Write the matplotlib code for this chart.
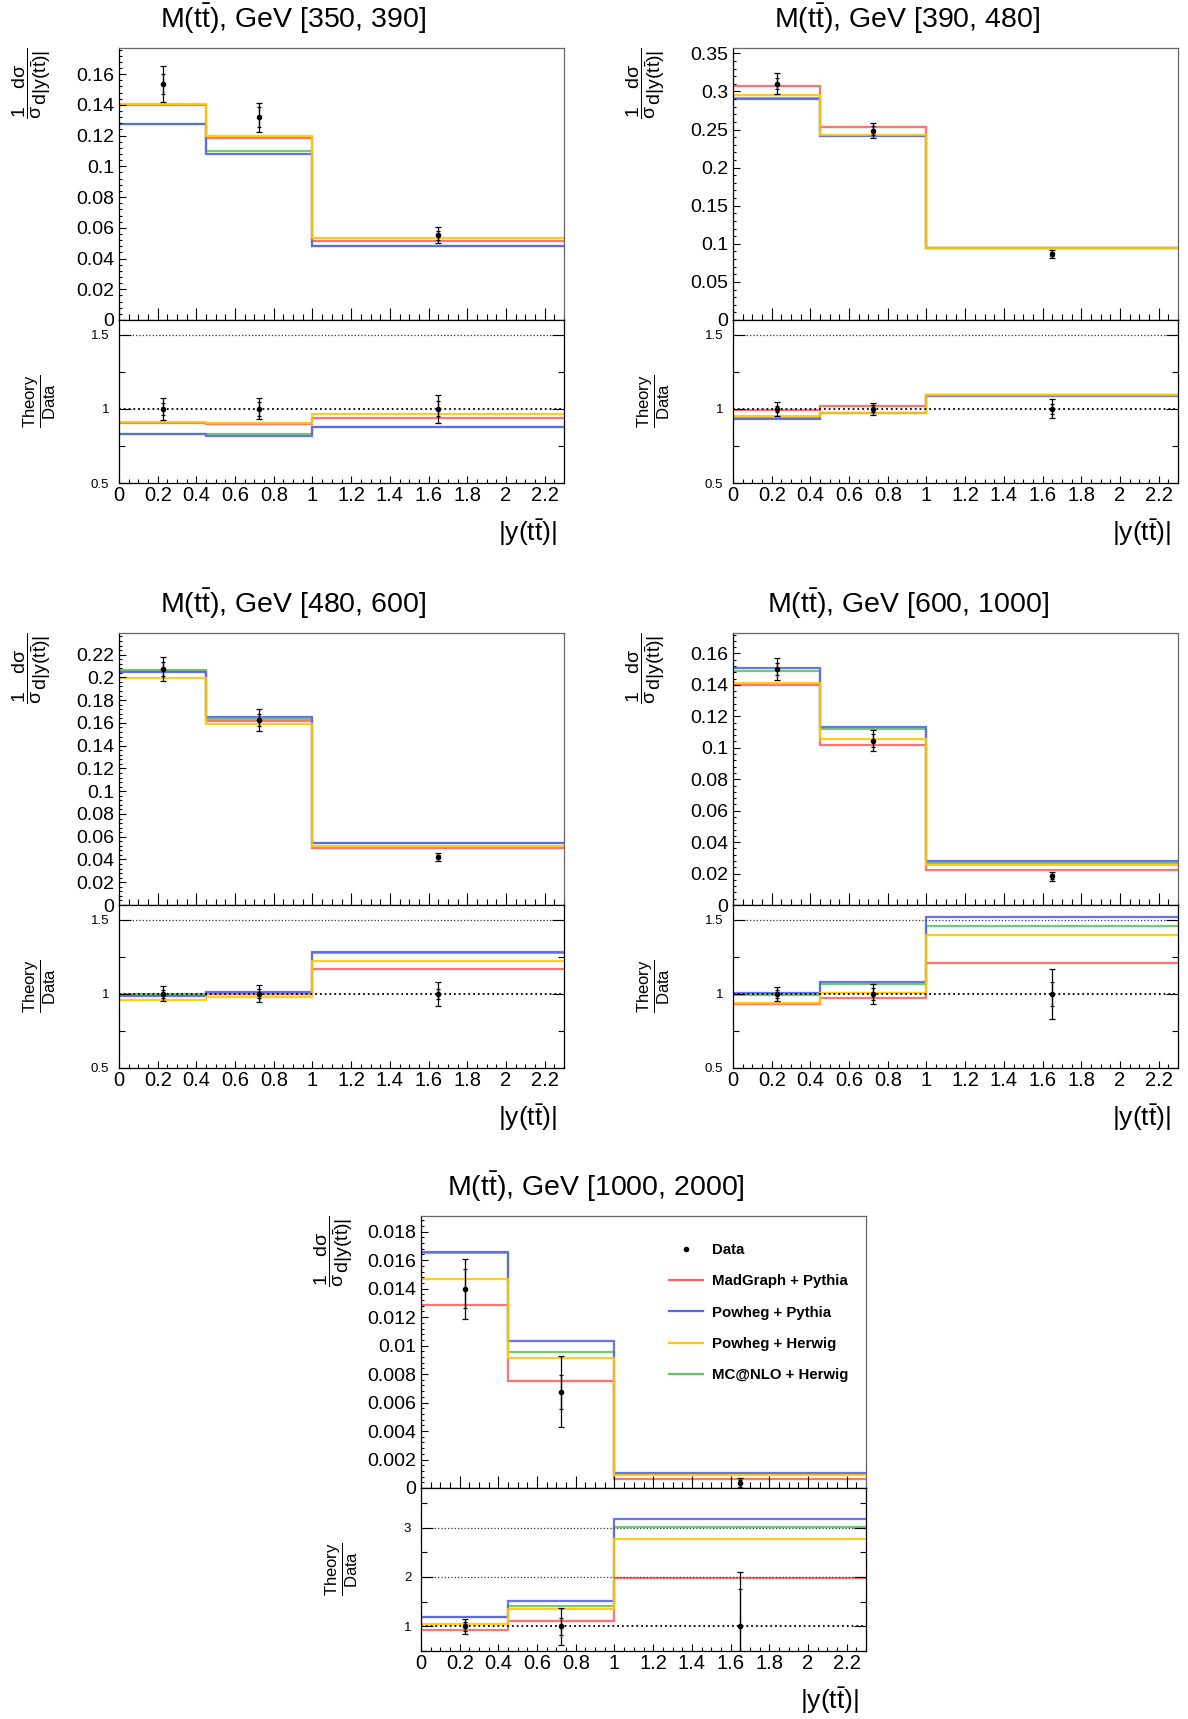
import numpy as np
import matplotlib
matplotlib.use('Agg')
import matplotlib.pyplot as plt
from matplotlib.ticker import MultipleLocator, FuncFormatter
from matplotlib.lines import Line2D

plt.rcParams['font.family'] = ['Liberation Sans', 'DejaVu Sans']
plt.rcParams['mathtext.fontset'] = 'custom'
plt.rcParams['mathtext.rm'] = 'Liberation Sans'
plt.rcParams['mathtext.it'] = 'Liberation Sans'
plt.rcParams['mathtext.bf'] = 'Liberation Sans:bold'

W, H = 1188, 1719

# |y(tt)| binning
bin_edges = [0.0, 0.45, 1.0, 2.3]
bin_centres = [0.225, 0.725, 1.65]

mass_ranges = ['[350, 390]', '[390, 480]', '[480, 600]', '[600, 1000]', '[1000, 2000]']

# normalised cross sections, one row per M(tt) bin
data_xsec = [[0.1537, 0.1319, 0.0550],
             [0.3100, 0.2486, 0.0869],
             [0.2075, 0.1625, 0.0425],
             [0.1500, 0.1045, 0.0182],
             [0.01400, 0.00677, 0.00033]]
data_err_tot = [[0.0117, 0.0094, 0.0052],
                [0.0138, 0.0096, 0.0056],
                [0.0105, 0.0094, 0.0034],
                [0.0068, 0.0068, 0.0031],
                [0.0021, 0.0025, 0.00036]]
data_err_stat = [[0.0066, 0.0064, 0.0028],
                 [0.0070, 0.0058, 0.0030],
                 [0.0060, 0.0050, 0.0015],
                 [0.0039, 0.0040, 0.0015],
                 [0.00135, 0.0012, 0.00025]]

madgraph_pythia = [[0.1396, 0.1185, 0.0515],
                   [0.3076, 0.2528, 0.0950],
                   [0.2055, 0.1619, 0.0497],
                   [0.1398, 0.1019, 0.0220],
                   [0.01283, 0.00752, 0.00065]]
powheg_pythia = [[0.1273, 0.1078, 0.0482],
                 [0.2897, 0.2411, 0.0945],
                 [0.2048, 0.1650, 0.0544],
                 [0.1510, 0.1131, 0.0277],
                 [0.01658, 0.01029, 0.001045]]
powheg_herwig = [[0.1405, 0.1197, 0.0531],
                 [0.2949, 0.2425, 0.0950],
                 [0.1995, 0.1588, 0.0519],
                 [0.1412, 0.1053, 0.0254],
                 [0.01471, 0.00916, 0.000913]]
mcatnlo_herwig = [[0.1278, 0.1097, 0.0484],
                  [0.2920, 0.2418, 0.0948],
                  [0.2068, 0.1634, 0.0542],
                  [0.1487, 0.1117, 0.0266],
                  [0.01650, 0.00954, 0.000995]]

model_names = ['MadGraph + Pythia', 'Powheg + Pythia', 'Powheg + Herwig', 'MC@NLO + Herwig']
model_colors = ['#ff6464', '#5a64eb', '#ffc800', '#5ec85e']
# draw order: red, green, blue, yellow on top
draw_order = [0, 3, 1, 2]

# axis settings per panel
main_ymax = [0.177, 0.357, 0.239, 0.173, 0.0191]
main_ystep = [0.02, 0.05, 0.02, 0.02, 0.002]
ratio_ylim = [(0.5, 1.6), (0.5, 1.6), (0.5, 1.6), (0.5, 1.6), (0.5, 3.8)]
ratio_ystep = [0.5, 0.5, 0.5, 0.5, 1.0]

# pixel positions (left, top) of each main pad
panel_pos = [(119, 48), (733, 48), (119, 633), (733, 633), (421, 1216)]
AX_W, MAIN_H, RATIO_H = 445, 272, 163


def fmt(v, pos):
    v = round(v, 6)
    if abs(v) < 1e-9:
        v = 0.0
    return f'{v:g}'


fig = plt.figure(figsize=(W / 100, H / 100), dpi=100)

for i in range(5):
    left, top = panel_pos[i]
    axm = fig.add_axes([left / W, 1 - (top + MAIN_H) / H, AX_W / W, MAIN_H / H])
    axr = fig.add_axes([left / W, 1 - (top + MAIN_H + RATIO_H) / H, AX_W / W, RATIO_H / H])

    models = [madgraph_pythia[i], powheg_pythia[i], powheg_herwig[i], mcatnlo_herwig[i]]
    data = np.array(data_xsec[i])
    etot = np.array(data_err_tot[i])
    estat = np.array(data_err_stat[i])

    # theory histograms
    for k in draw_order:
        vals = np.array(models[k])
        axm.stairs(vals, bin_edges, baseline=None, color=model_colors[k], lw=1.6, alpha=0.9)
        axr.stairs(vals / data, bin_edges, baseline=None, color=model_colors[k], lw=1.6, alpha=0.9)

    # data points
    axm.errorbar(bin_centres, data, yerr=etot, fmt='o', color='black', ms=3,
                 lw=0.9, capsize=2.2, capthick=0.9, zorder=5)
    axm.errorbar(bin_centres, data, yerr=estat, fmt='none', ecolor='black',
                 lw=0.9, capsize=1.5, capthick=0.9, zorder=5)

    ones = np.ones(3)
    axr.errorbar(bin_centres, ones, yerr=etot / data, fmt='o', color='black', ms=3,
                 lw=0.9, capsize=2.2, capthick=0.9, zorder=5)
    axr.errorbar(bin_centres, ones, yerr=estat / data, fmt='none', ecolor='black',
                 lw=0.9, capsize=1.5, capthick=0.9, zorder=5)

    # ratio reference lines
    lo, hi = ratio_ylim[i]
    for yl in np.arange(1.0, hi, ratio_ystep[i]):
        if abs(yl - 1.0) < 1e-6:
            axr.axhline(yl, color='black', lw=1.3, ls=':', zorder=1)
        else:
            axr.axhline(yl, color='#333333', lw=0.9, ls=':', zorder=1)

    # main axes style
    axm.set_xlim(0, 2.3)
    axm.set_ylim(0, main_ymax[i])
    axm.yaxis.set_major_locator(MultipleLocator(main_ystep[i]))
    axm.yaxis.set_minor_locator(MultipleLocator(main_ystep[i] / 5))
    axm.xaxis.set_major_locator(MultipleLocator(0.2))
    axm.xaxis.set_minor_locator(MultipleLocator(0.05))
    axm.yaxis.set_major_formatter(FuncFormatter(fmt))
    axm.tick_params(which='both', direction='in', top=False, right=False, width=0.8)
    axm.tick_params(axis='y', which='major', length=5, labelsize=14, pad=3.5)
    axm.tick_params(axis='y', which='minor', length=2.5)
    axm.tick_params(axis='x', which='major', length=8.6, labelbottom=False)
    axm.tick_params(axis='x', which='minor', length=4.3)
    for s in ['top', 'right']:
        axm.spines[s].set_color('#666666')
    for s in axm.spines.values():
        s.set_linewidth(0.9)

    # ratio axes style
    axr.set_xlim(0, 2.3)
    axr.set_ylim(lo, hi)
    axr.yaxis.set_major_locator(MultipleLocator(ratio_ystep[i]))
    axr.yaxis.set_minor_locator(MultipleLocator(ratio_ystep[i] / 2))
    axr.xaxis.set_major_locator(MultipleLocator(0.2))
    axr.xaxis.set_minor_locator(MultipleLocator(0.05))
    axr.xaxis.set_major_formatter(FuncFormatter(fmt))
    axr.yaxis.set_major_formatter(FuncFormatter(fmt))
    axr.tick_params(which='both', direction='in', top=False, right=True, width=0.8)
    axr.tick_params(axis='y', which='major', length=8.6, labelsize=9.5, pad=7)
    axr.tick_params(axis='y', which='minor', length=4.3)
    axr.tick_params(axis='x', which='major', length=5, labelsize=14.5, pad=2)
    axr.tick_params(axis='x', which='minor', length=2.9)
    for s in axr.spines.values():
        s.set_linewidth(0.9)

    # labels
    fig.text((left + AX_W / 2 - 48) / W, 1 - (top - 29) / H,
             r'M($\mathrm{t\bar{t}}$), GeV ' + mass_ranges[i],
             ha='center', va='center', fontsize=20.5)
    fig.text((left - 87) / W, 1 - top / H,
             r'$\dfrac{1}{\sigma}\dfrac{\mathrm{d}\sigma}{\mathrm{d|y(t\bar{t})|}}$',
             rotation=90, ha='center', va='top', fontsize=14)
    fig.text((left - 79) / W, 1 - (top + MAIN_H + RATIO_H / 2) / H,
             r'$\dfrac{\mathrm{Theory}}{\mathrm{Data}}$',
             rotation=90, ha='center', va='center', fontsize=12)
    fig.text((left + AX_W - 7) / W, 1 - (top + MAIN_H + RATIO_H + 50) / H,
             r'|y($\mathrm{t\bar{t}}$)|', ha='right', va='center', fontsize=19)

    if i == 4:
        handles = [Line2D([], [], ls='none', marker='o', color='black', ms=3)]
        for k in range(4):
            handles.append(Line2D([], [], color=model_colors[k], lw=1.6))
        axm.legend(handles, ['Data'] + model_names, loc='upper left',
                   bbox_to_anchor=(0.557, 0.90), frameon=False, borderpad=0,
                   borderaxespad=0, handlelength=2.3, handletextpad=0.55,
                   labelspacing=1.15, prop={'weight': 'bold', 'size': 10.8})

fig.savefig('out.png', dpi=100)
